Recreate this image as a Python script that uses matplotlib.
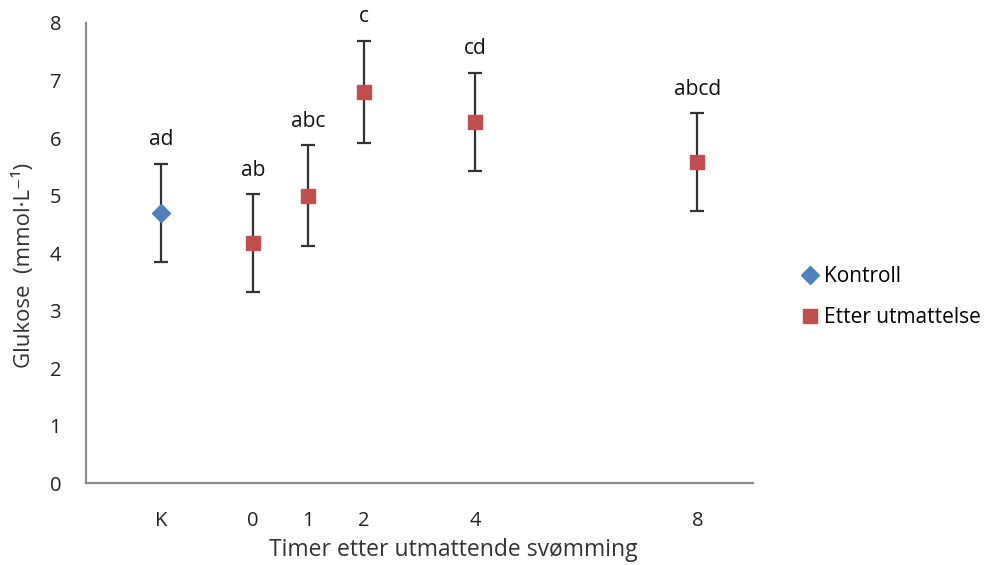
import matplotlib.pyplot as plt
from matplotlib.lines import Line2D

plt.rcParams['font.family'] = ['Open Sans', 'DejaVu Sans']

# data
k_x = [-1.65]
k_mean = [4.7]
k_err = [0.85]

t_hours = [0, 1, 2, 4, 8]
t_mean = [4.17, 5.0, 6.8, 6.28, 5.58]
t_err = [0.85, 0.87, 0.89, 0.85, 0.85]

letters_k = ["ad"]
letters_t = ["ab", "abc", "c", "cd", "abcd"]

tick_pos = k_x + t_hours
tick_labels = ["K", "0", "1", "2", "4", "8"]

blue = '#4F81BD'
red = '#C0504D'

fig = plt.figure(figsize=(9.98, 5.65), dpi=100)
ax = fig.add_axes([0.0862, 0.1451, 0.6683, 0.8142])

ax.errorbar(k_x, k_mean, yerr=k_err, fmt='D', color=blue, markersize=9.5,
            ecolor='#333333', elinewidth=1.6, capsize=5, capthick=1.6, zorder=3)
ax.errorbar(t_hours, t_mean, yerr=t_err, fmt='s', color=red, markersize=10.5,
            ecolor='#333333', elinewidth=1.6, capsize=5, capthick=1.6, zorder=3)

for x, m, e, s in zip(k_x + t_hours, k_mean + t_mean, k_err + t_err, letters_k + letters_t):
    ax.text(x, m + e + 0.42, s, ha='center', va='center', fontsize=15, color='#111111')

ax.set_xlim(-3, 9)
ax.set_ylim(0, 8)
ax.set_yticks(range(0, 9))
ax.set_xticks(tick_pos)
ax.set_xticklabels(tick_labels)
ax.tick_params(axis='both', length=0, labelsize=14.5, colors='#222222')
ax.tick_params(axis='y', pad=18)
ax.tick_params(axis='x', pad=20)

for side in ['top', 'right']:
    ax.spines[side].set_visible(False)
for side in ['left', 'bottom']:
    ax.spines[side].set_color('#8c8c8c')
    ax.spines[side].set_linewidth(1.6)

ax.set_ylabel('Glukose  (mmol·L⁻¹)', fontsize=16, color='#333333')
ax.yaxis.set_label_coords(-0.0765, 0.474)
ax.set_xlabel('Timer etter utmattende svømming', fontsize=16.5, color='#333333')
ax.xaxis.set_label_coords(0.55, -0.119)

handles = [Line2D([], [], marker='D', color=blue, linestyle='none', markersize=9.5),
           Line2D([], [], marker='s', color=red, linestyle='none', markersize=10.5)]
ax.legend(handles, ['Kontroll', 'Etter utmattelse'], loc='center left',
          bbox_to_anchor=(1.054, 0.404), frameon=False, fontsize=15,
          borderaxespad=0, handletextpad=0.1, handlelength=1.2, labelspacing=0.95)

fig.savefig('out.png', dpi=100)
